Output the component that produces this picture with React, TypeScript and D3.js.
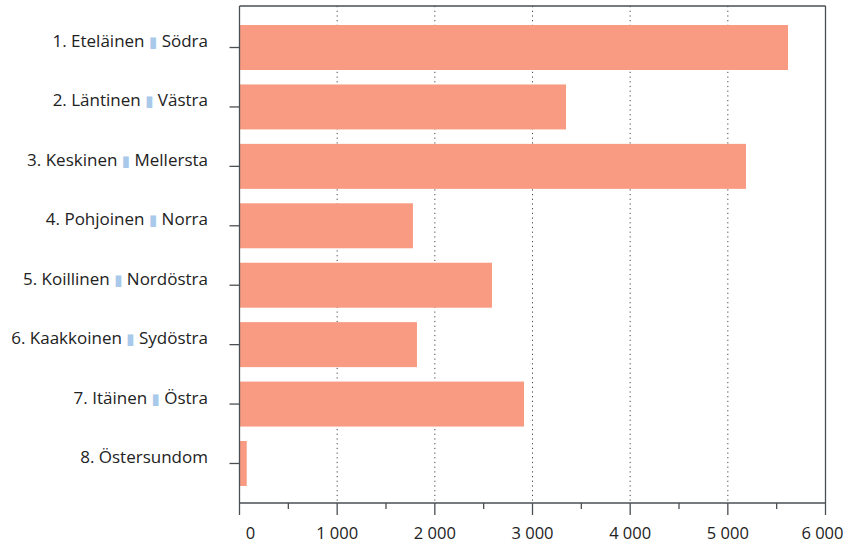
import React from "react";
import * as d3 from "d3";

const categoriesFi = ["1. Eteläinen", "2. Läntinen", "3. Keskinen", "4. Pohjoinen", "5. Koillinen", "6. Kaakkoinen", "7. Itäinen", "8. Östersundom"];
const categoriesSv = ["Södra", "Västra", "Mellersta", "Norra", "Nordöstra", "Sydöstra", "Östra", ""];
const values = [5616, 3343, 5186, 1776, 2585, 1817, 2913, 74];
const xTicks = [0, 1000, 2000, 3000, 4000, 5000, 6000];
const xTickLabels = ["0", "1 000", "2 000", "3 000", "4 000", "5 000", "6 000"];
const minorTicks = [500, 1500, 2500, 3500, 4500, 5500];

const W = 845;
const H = 543;
const left = 239.5;
const right = 825.5;
const top = 6;
const bottom = 503;
const FONT = "'Open Sans', 'Noto Sans', sans-serif";
const AXIS = "#4a4f54";

export default function App() {
  const x = d3.scaleLinear().domain([0, 6000]).range([left, right]);
  const y = d3
    .scaleBand<number>()
    .domain(d3.range(categoriesFi.length))
    .range([17.8, 493.2])
    .paddingInner(0.243)
    .paddingOuter(0.1215);
  const bw = y.bandwidth();
  const lastIdx = xTicks.length - 1;

  return (
    <svg width={W} height={H} style={{ position: "absolute", left: 0, top: 0 }} fontFamily={FONT}>
      <rect x={0} y={0} width={W} height={H} fill="#fff" />
      {xTicks.slice(1, -1).map((t) => (
        <line key={"g" + t} x1={x(t)} x2={x(t)} y1={top} y2={bottom} stroke="#444" strokeWidth={1} strokeDasharray="1.2,3.5" />
      ))}
      {values.map((v, i) => (
        <rect key={"b" + i} x={x(0)} y={y(i)} width={x(v) - x(0)} height={bw} fill="#f89b82" />
      ))}
      <line x1={left} x2={right} y1={top} y2={top} stroke={AXIS} strokeWidth={1.3} />
      <line x1={right} x2={right} y1={top} y2={bottom} stroke={AXIS} strokeWidth={1.3} />
      <line x1={left} x2={left} y1={top} y2={bottom} stroke={AXIS} strokeWidth={1.3} />
      <line x1={left} x2={right} y1={bottom} y2={bottom} stroke={AXIS} strokeWidth={1.3} />
      {xTicks.map((t) => (
        <line key={"t" + t} x1={x(t)} x2={x(t)} y1={bottom} y2={bottom + 12} stroke={AXIS} strokeWidth={1.3} />
      ))}
      {minorTicks.map((t) => (
        <line key={"m" + t} x1={x(t)} x2={x(t)} y1={bottom} y2={bottom + 6} stroke={AXIS} strokeWidth={1.3} />
      ))}
      {xTicks.map((t, i) => (
        <text
          key={"l" + t}
          x={i === lastIdx ? W - 1.5 : x(t) + (i === 0 ? 11 : 0)}
          y={539}
          textAnchor={i === lastIdx ? "end" : "middle"}
          fontSize={16.5}
          fill="#222"
        >
          {xTickLabels[i]}
        </text>
      ))}
      {categoriesFi.map((c, i) => {
        const cy = (y(i) as number) + bw / 2;
        return (
          <g key={"y" + i}>
            <line x1={left - 10} x2={left} y1={cy} y2={cy} stroke={AXIS} strokeWidth={1.3} />
            <text x={208} y={cy - 0.5} textAnchor="end" fontSize={17} fill="#222">
              {c}
              {categoriesSv[i] ? (
                <>
                  {" "}
                  <tspan fill="#a9c9ea" fontSize={15} fontFamily="'DejaVu Sans'">▮</tspan>
                  {" " + categoriesSv[i]}
                </>
              ) : null}
            </text>
          </g>
        );
      })}
    </svg>
  );
}
